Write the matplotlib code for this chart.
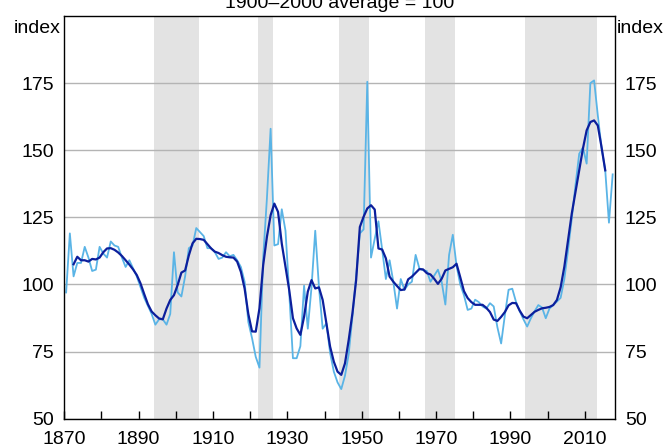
import numpy as np
import matplotlib
matplotlib.use("Agg")
import matplotlib.pyplot as plt

plt.rcParams['font.family'] = ['Liberation Sans', 'DejaVu Sans']

# annual index, 1870-2017
years = np.arange(1870, 2018)
annual = [
    97, 119, 103, 108, 108, 114, 110, 105, 105.5, 114,            # 1870s
    111.5, 110, 116, 114.5, 114, 110, 106.5, 109, 106, 103,       # 1880s
    99, 95, 92, 89, 85, 87, 87, 85, 89, 112,                      # 1890s
    97, 95.5, 103, 113.5, 114.5, 121, 119.5, 118, 113.5, 113.5,   # 1900s
    112, 109.5, 110, 112, 110.5, 111, 109, 106.5, 101, 86,        # 1910s
    80, 73, 69, 110, 132, 158, 114.5, 115, 128, 120,              # 1920s
    97, 72.5, 72.5, 77, 99.5, 83.5, 99, 120, 99, 83.5,            # 1930s
    85.5, 74.5, 67.5, 63.5, 61, 66, 74, 88, 103, 119,             # 1940s
    120.5, 175.5, 110, 117, 123.5, 113, 102, 109, 101, 91,        # 1950s
    102, 98, 100, 101, 111, 106, 105.3, 105, 101, 103.3,          # 1960s
    105.5, 101, 92.5, 111, 118.5, 107, 100, 96, 90.5, 91,         # 1970s
    94.3, 93.4, 91.8, 91, 93, 91.8, 84, 78, 88.5, 98,             # 1980s
    98.4, 93.5, 90, 87, 84.3, 87.4, 90, 92.3, 91.4, 87.4,         # 1990s
    91, 92.3, 93.6, 95, 102, 112.8, 124.5, 137, 148.7, 151,       # 2000s
    145, 175, 176, 163, 151, 142.5, 123, 141,                     # 2010s
]

# smoothed index, 1872-2015
smooth_years = np.arange(1872, 2016)
smoothed = [
    107.5, 110.3, 109, 109, 108.5, 109.5, 109.3, 110,             # 1872-79
    112, 113.4, 113.5, 112.9, 111.9, 110.6, 109, 107.4, 105.6, 103.5,
    100.4, 96.4, 92.6, 89.9, 88.5, 87.3, 87, 91, 94.2, 96,
    99.8, 104.4, 105.2, 110.8, 115.3, 117, 116.9, 116.6, 115, 113.4,
    112.2, 111.7, 110.9, 110.3, 110.1, 110, 108.5, 104.7, 98.5, 89,
    82.5, 82.4, 91.1, 107.2, 117.7, 125.8, 130.1, 127, 115.2, 106.6,
    97.9, 87.4, 83.6, 81.2, 88, 97.3, 101.6, 98.5, 98.9, 94.2,
    85.5, 76.8, 71.2, 67.5, 66.3, 70.6, 79.3, 89.2, 101.6, 121.4,
    125.2, 128.3, 129.5, 127.9, 113.4, 113, 109.7, 102.9, 101, 99.4,
    97.9, 98.1, 101.9, 102.9, 104.3, 105.7, 105.6, 104.2, 103.7, 102.1,
    100.2, 102.1, 105.2, 105.8, 106.4, 107.7, 102.7, 97.5, 94.9, 93.4,
    92.4, 92.4, 92.4, 91.3, 89.7, 86.9, 86.4, 87.9, 89.7, 92.2,
    93.1, 93, 90.2, 88, 87.4, 88.6, 89.8, 90.5, 91.1, 91.3,
    91.6, 92.3, 94.2, 98.9, 106.6, 116.5, 126.4, 134.4, 142.5, 150.6,
    157.4, 160.5, 161.1, 159.2, 151.2, 142.5,
]

# shaded periods
shade_start = [1894, 1922.2, 1944, 1967, 1994]
shade_end = [1906.2, 1926.1, 1952, 1975, 2013.2]

yticks = [50, 75, 100, 125, 150, 175]

fig = plt.figure(figsize=(6.64, 4.45), dpi=100)
ax = fig.add_axes([0.0968, 0.0593, 0.8287, 0.9047])

for a, b in zip(shade_start, shade_end):
    ax.axvspan(a, b, color='#e3e3e3', lw=0, zorder=0.2)

ax.plot(years + 0.5, annual, color='#5ab4e6', lw=1.3, zorder=2)
ax.plot(smooth_years + 0.5, smoothed, color='#0c1f9c', lw=1.6, zorder=3)

ax.set_xlim(1870, 2018)
ax.set_ylim(50, 200)

ax.set_axisbelow(True)
ax.yaxis.grid(True, color='#b4b4b4', lw=1)
ax.set_yticks(yticks)
ax.tick_params(axis='y', left=False, right=False, labelleft=True,
               labelright=True, labelsize=14, pad=4)

xt = list(range(1870, 2011, 10))
ax.set_xticks(xt)
ax.set_xticklabels([str(y) if (y - 1870) % 20 == 0 else '' for y in xt])
ax.tick_params(axis='x', direction='in', length=6, width=1,
               labelsize=14, pad=9)

for s in ax.spines.values():
    s.set_linewidth(1)
    s.set_color('black')

fig.text(0.511, 1 - 8.5 / 445, '1900\u20132000 average = 100', ha='center',
         va='baseline', fontsize=14)
fig.text(61 / 664, 1 - 33 / 445, 'index', ha='right', va='baseline',
         fontsize=14)
fig.text(617 / 664, 1 - 33 / 445, 'index', ha='left', va='baseline',
         fontsize=14)

plt.savefig('out.png', dpi=100)
